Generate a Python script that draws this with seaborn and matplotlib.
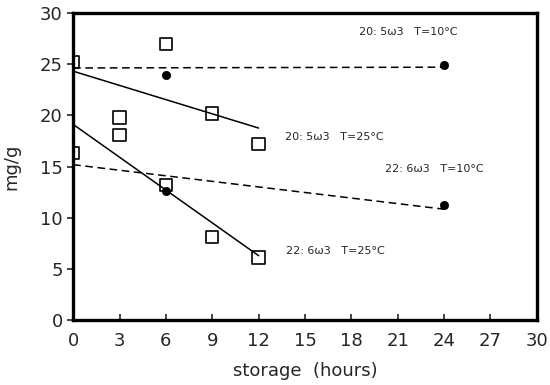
import matplotlib
matplotlib.use("Agg")
import matplotlib.pyplot as plt
import seaborn as sns
import pandas as pd

# storage data (mg/g)
hours_25 = [0, 3, 6, 9, 12]
epa_25 = [25.2, 18.1, 27.0, 20.2, 17.2]   # 20:5w3 at 25 C
dha_25 = [16.3, 19.8, 13.2, 8.1, 6.1]     # 22:6w3 at 25 C
hours_10 = [0, 6, 24]
epa_10 = [25.2, 23.9, 24.9]               # 20:5w3 at 10 C
dha_10 = [16.3, 12.6, 11.2]               # 22:6w3 at 10 C

labels = ["20: 5\u03c93   T=10\u00b0C", "20: 5\u03c93   T=25\u00b0C",
          "22: 6\u03c93   T=10\u00b0C", "22: 6\u03c93   T=25\u00b0C"]
x_ticks = list(range(0, 31, 3))
y_ticks = list(range(0, 31, 5))

sns.set_style("ticks")
plt.rcParams['font.family'] = ['DejaVu Sans']

df25 = pd.DataFrame({'hours': hours_25, 'epa': epa_25, 'dha': dha_25})
df10 = pd.DataFrame({'hours': hours_10, 'epa': epa_10, 'dha': dha_10})

fig = plt.figure(figsize=(5.5, 3.85), dpi=100)
ax = fig.add_axes([0.133, 0.169, 0.843, 0.797])

# fitted lines
solid = dict(color='black', lw=1.1)
dashed = dict(color='black', lw=1.1, ls=(0, (5, 3)))
sns.regplot(data=df25, x='hours', y='epa', ci=None, scatter=False, truncate=True, line_kws=solid, ax=ax)
sns.regplot(data=df25, x='hours', y='dha', ci=None, scatter=False, truncate=True, line_kws=solid, ax=ax)
sns.regplot(data=df10, x='hours', y='epa', ci=None, scatter=False, truncate=True, line_kws=dashed, ax=ax)
sns.regplot(data=df10, x='hours', y='dha', ci=None, scatter=False, truncate=True, line_kws=dashed, ax=ax)

# markers
for col in ['epa', 'dha']:
    sns.scatterplot(data=df25, x='hours', y=col, marker='s', s=80, facecolor='none',
                    edgecolor='black', linewidth=1.2, ax=ax, zorder=3)
    sns.scatterplot(data=df10.iloc[1:], x='hours', y=col, marker='o', s=36, color='black',
                    edgecolor='black', ax=ax, zorder=3)

# series labels
ax.text(18.5, 27.9, labels[0], fontsize=8)
ax.text(13.7, 17.6, labels[1], fontsize=8)
ax.text(20.2, 14.5, labels[2], fontsize=8)
ax.text(13.8, 6.4, labels[3], fontsize=8)

ax.set_xlim(0, 30)
ax.set_ylim(0, 30)
ax.set_xticks(x_ticks)
ax.set_yticks(y_ticks)
ax.tick_params(axis='x', direction='in', length=4, width=1.2, labelsize=13, pad=9)
ax.tick_params(axis='y', direction='out', length=4, width=1.2, labelsize=13)
ax.set_xlabel("storage  (hours)", fontsize=13, labelpad=8)
ax.set_ylabel("mg/g", fontsize=13, labelpad=14)
for sp in ax.spines.values():
    sp.set_linewidth(2.4)
    sp.set_color('black')

fig.savefig("out.png", dpi=100)
